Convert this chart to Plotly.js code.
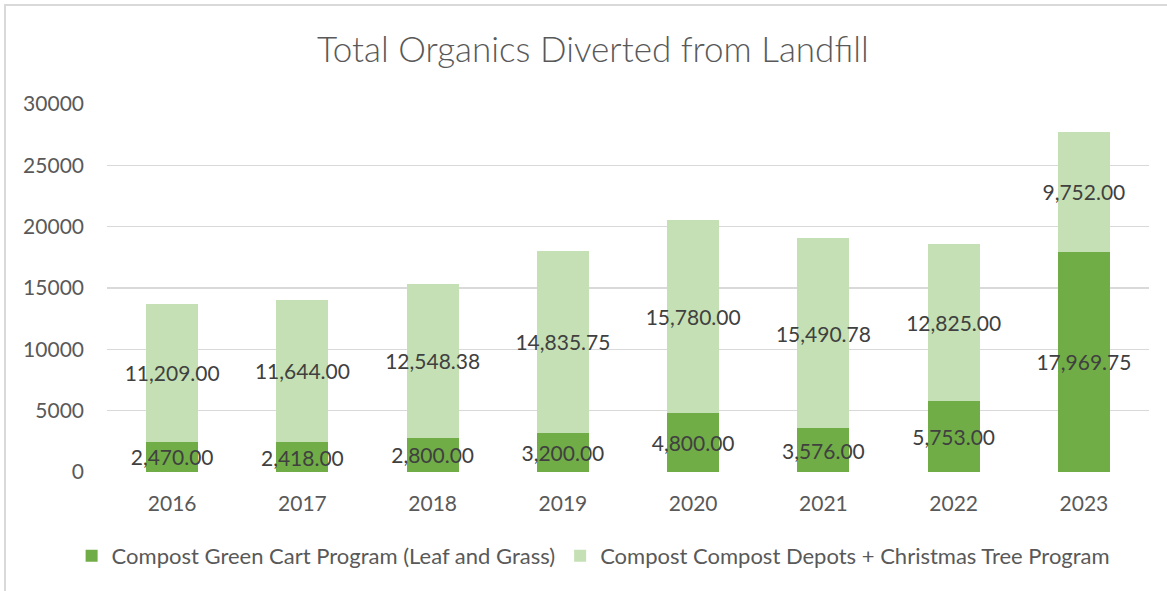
<!DOCTYPE html>
<html>
<head>
<meta charset="utf-8">
<script src="https://cdn.plot.ly/plotly-3.0.1.min.js"></script>
<style>
  html, body { margin: 0; padding: 0; background: #fff; }
  #wrap { position: relative; width: 1167px; height: 591px; }
  #chart { width: 1167px; height: 591px; }
  #frame { position: absolute; left: 4px; top: 4px; right: -10px; bottom: -10px;
           border-top: 2px solid #d9d9d9; border-left: 2px solid #d9d9d9; pointer-events: none; }
</style>
</head>
<body>
<div id="wrap"><div id="chart"></div><div id="frame"></div></div>
<script>
const years = ['2016', '2017', '2018', '2019', '2020', '2021', '2022', '2023'];
const greenCart = [2470.00, 2418.00, 2800.00, 3200.00, 4800.00, 3576.00, 5753.00, 17969.75];
const depotsTree = [11209.00, 11644.00, 12548.38, 14835.75, 15780.00, 15490.78, 12825.00, 9752.00];
const seriesNames = ['Compost Green Cart Program (Leaf and Grass)', 'Compost Compost Depots + Christmas Tree Program'];
const yTicks = [0, 5000, 10000, 15000, 20000, 25000, 30000];

const FONT = 'Lato, "Open Sans", sans-serif';
const labelFont = { family: FONT, size: 21, color: '#404040' };

const common = {
  type: 'bar',
  x: years,
  texttemplate: '%{y:,.2f}',
  textposition: 'inside',
  insidetextanchor: 'middle',
  constraintext: 'none',
  textangle: 0,
  textfont: labelFont,
  insidetextfont: labelFont,
  hoverinfo: 'skip'
};

const traces = [
  Object.assign({}, common, { name: seriesNames[0], y: greenCart, marker: { color: '#70AD47' } }),
  Object.assign({}, common, { name: seriesNames[1], y: depotsTree, marker: { color: '#C5E0B4' } })
];

const layout = {
  width: 1167, height: 591,
  paper_bgcolor: '#ffffff', plot_bgcolor: '#ffffff',
  barmode: 'stack', bargap: 0.6,
  margin: { l: 107, r: 18, t: 104, b: 119 },
  font: { family: FONT, color: '#595959' },
  title: { text: 'Total Organics Diverted from Landfill', font: { family: FONT, size: 35, color: '#595959', weight: 300 },
           x: 0.508, xanchor: 'center', y: 0.915, yanchor: 'middle' },
  xaxis: { type: 'category', showgrid: false, zeroline: false, showline: false, ticks: '',
           tickfont: { family: FONT, size: 21, color: '#595959' }, ticklabelstandoff: 17 },
  yaxis: { range: [0, 30000], tickvals: yTicks, ticktext: yTicks.map(String),
           showgrid: true, gridcolor: '#d9d9d9', gridwidth: 1.5, zeroline: false, showline: false, ticks: '',
           tickfont: { family: FONT, size: 21, color: '#595959' }, ticklabelstandoff: 22 },
  showlegend: true,
  legend: { orientation: 'h', x: 0.467, xanchor: 'center', y: -0.228, yanchor: 'middle',
            font: { family: FONT, size: 22, color: '#595959' }, traceorder: 'normal', itemwidth: 30 },
};

Plotly.newPlot('chart', traces, layout, { displayModeBar: false, staticPlot: true });
</script>
</body>
</html>
